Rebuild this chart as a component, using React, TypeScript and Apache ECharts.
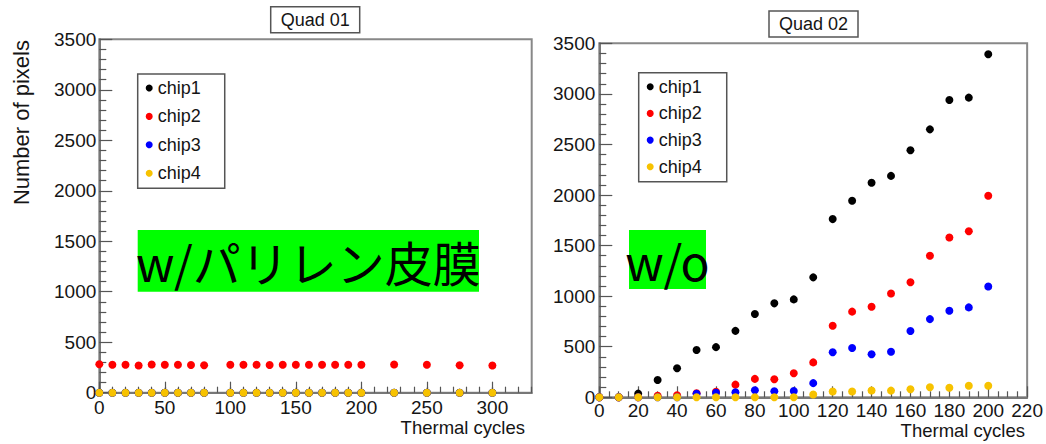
import React, { useEffect, useRef } from "react";
import * as echarts from "echarts";

// ---------- data ----------
const chipNames = ["chip1", "chip2", "chip3", "chip4"];
const chipColors = ["#000000", "#ff0000", "#0000ff", "#f7c200"];

const quad01Cycles = [0, 10, 20, 30, 40, 50, 60, 70, 80, 100, 110, 120, 130, 140, 150, 160, 170, 180, 190, 200, 225, 250, 275, 300];
const quad01Chip1 = [0, 0, 0, 0, 0, 0, 0, 0, 0, 0, 0, 0, 0, 0, 0, 0, 0, 0, 0, 0, 0, 0, 0, 0];
const quad01Chip2 = [282, 276, 276, 270, 280, 276, 276, 275, 272, 276, 276, 276, 275, 276, 276, 276, 276, 276, 277, 276, 279, 276, 272, 270];
const quad01Chip3 = [0, 0, 0, 0, 0, 0, 0, 0, 0, 0, 0, 0, 0, 0, 0, 0, 0, 0, 0, 0, 0, 0, 0, 0];
const quad01Chip4 = [0, 0, 0, 0, 0, 0, 0, 0, 0, 0, 0, 0, 0, 0, 0, 0, 0, 0, 0, 0, 0, 0, 0, 0];

const quad02Cycles = [0, 10, 20, 30, 40, 50, 60, 70, 80, 90, 100, 110, 120, 130, 140, 150, 160, 170, 180, 190, 200];
const quad02Chip1 = [0, 0, 36, 171, 287, 468, 496, 657, 824, 929, 968, 1186, 1762, 1943, 2121, 2189, 2443, 2649, 2940, 2963, 3391];
const quad02Chip2 = [0, 0, 0, 15, 20, 40, 55, 125, 182, 178, 237, 345, 708, 847, 895, 1026, 1137, 1400, 1580, 1642, 1993];
const quad02Chip3 = [0, 0, 0, 0, 0, 35, 45, 50, 70, 60, 63, 140, 445, 487, 425, 450, 655, 773, 856, 889, 1096];
const quad02Chip4 = [0, 0, 0, 0, 0, 0, 0, 0, 0, 0, 0, 27, 57, 57, 68, 66, 79, 99, 94, 115, 115];

const quad01Series = [quad01Chip1, quad01Chip2, quad01Chip3, quad01Chip4];
const quad02Series = [quad02Chip1, quad02Chip2, quad02Chip3, quad02Chip4];

const quad01Title = "Quad 01";
const quad02Title = "Quad 02";
const xAxisTitle = "Thermal cycles";
const yAxisTitle = "Number of pixels";
const quad01Tag = "w/パリレン皮膜";
const quad02Tag = "w/o";

// ---------- styles ----------
const FONT = "'Liberation Sans', Arial, Helvetica, sans-serif";
const CJK = "'Noto Sans CJK JP', 'Noto Sans', sans-serif";
const AXIS_COLOR = "#777";
const TICK_COLOR = "#555";
const LABEL_COLOR = "#151515";

function buildOption() {
  const yAxisBase = (gridIndex: number, labelMargin: number) => ({
    type: "value",
    gridIndex,
    min: 0,
    max: 3500,
    interval: 500,
    axisLine: { show: true, lineStyle: { color: AXIS_COLOR, width: 2 } },
    axisTick: { show: true, inside: true, length: 13, lineStyle: { color: TICK_COLOR, width: 1.2 } },
    minorTick: { show: true, splitNumber: 5, length: 7, lineStyle: { color: TICK_COLOR, width: 1.2 } },
    axisLabel: {
      fontFamily: FONT,
      fontSize: 19,
      color: LABEL_COLOR,
      margin: labelMargin,
      formatter: (v: number) => String(v),
    },
    splitLine: { show: false },
    minorSplitLine: { show: false },
  });

  const scatter = (name: string, color: string, xs: number[], ys: number[], xAxisIndex: number, yAxisIndex: number, z: number) => ({
    type: "scatter",
    name,
    xAxisIndex,
    yAxisIndex,
    symbol: "circle",
    symbolSize: 8,
    itemStyle: { color, opacity: 1 },
    emphasis: { disabled: true },
    z,
    clip: false,
    data: xs.map((x, i) => [x, ys[i]]),
  });

  const series: any[] = [];
  chipNames.forEach((n, i) => {
    series.push(scatter(n, chipColors[i], quad01Cycles, quad01Series[i], 0, 0, 2 + i));
  });
  chipNames.forEach((n, i) => {
    series.push(scatter(n, chipColors[i], quad02Cycles, quad02Series[i], 2, 1, 2 + i));
  });

  const legendBase = (left: number, top: number, gap: number, padding: number[]) => ({
    orient: "vertical",
    left,
    top,
    data: chipNames,
    icon: "circle",
    itemWidth: 7,
    itemHeight: 7,
    itemGap: gap,
    padding,
    borderColor: "#555",
    borderWidth: 1.5,
    backgroundColor: "#fff",
    selectedMode: false,
    itemStyle: { opacity: 1 },
    textStyle: { fontFamily: FONT, fontSize: 18, color: LABEL_COLOR, lineHeight: 20 },
  });

  const titleBase = (text: string, left: number, top: number) => ({
    text,
    left,
    top,
    padding: [4, 10, 4, 10],
    borderColor: "#555",
    borderWidth: 1.5,
    textStyle: { fontFamily: FONT, fontSize: 18, fontWeight: "normal", color: LABEL_COLOR, lineHeight: 18 },
  });

  return {
    animation: false,
    backgroundColor: "#fff",
    title: [titleBase(quad01Title, 270.7, 6.7), titleBase(quad02Title, 769, 11)],
    legend: [legendBase(137.7, 74, 8.4, [4, 24, 5, 8]), legendBase(638.7, 72.7, 6.7, [4, 25, 5, 8])],
    grid: [
      { left: 99.3, top: 39.3, width: 432.4, height: 353.4, show: true, borderColor: "#888", borderWidth: 2, backgroundColor: "transparent" },
      { left: 599.3, top: 43.3, width: 431.4, height: 354, show: true, borderColor: "#888", borderWidth: 2, backgroundColor: "transparent" },
    ],
    xAxis: [
      {
        type: "value",
        gridIndex: 0,
        min: 0,
        max: 330,
        interval: 50,
        axisLine: { show: true, lineStyle: { color: AXIS_COLOR, width: 2 } },
        axisTick: { show: true, inside: true, length: 11, lineStyle: { color: TICK_COLOR, width: 1.2 } },
        axisLabel: { fontFamily: FONT, fontSize: 19, color: LABEL_COLOR, margin: 5, showMaxLabel: false },
        splitLine: { show: false },
      },
      {
        type: "value",
        gridIndex: 0,
        position: "bottom",
        min: 0,
        max: 330,
        interval: 10,
        axisLine: { show: false },
        axisTick: { show: true, inside: true, length: 6, lineStyle: { color: TICK_COLOR, width: 1.2 } },
        axisLabel: { show: false },
        splitLine: { show: false },
      },
      {
        type: "value",
        gridIndex: 1,
        min: 0,
        max: 220,
        interval: 20,
        axisLine: { show: true, lineStyle: { color: AXIS_COLOR, width: 2 } },
        axisTick: { show: true, inside: true, length: 11, lineStyle: { color: TICK_COLOR, width: 1.2 } },
        minorTick: { show: true, splitNumber: 4, length: 6, lineStyle: { color: TICK_COLOR, width: 1.2 } },
        axisLabel: { fontFamily: FONT, fontSize: 19, color: LABEL_COLOR, margin: 4 },
        splitLine: { show: false },
        minorSplitLine: { show: false },
      },
    ],
    yAxis: [yAxisBase(0, 3), yAxisBase(1, 4)],
    series,
    graphic: [
      {
        type: "text",
        x: 21,
        y: 40,
        rotation: Math.PI / 2,
        style: { text: yAxisTitle, fontFamily: FONT, fontSize: 22, fill: LABEL_COLOR, align: "right", verticalAlign: "middle" },
      },
      {
        type: "text",
        x: 525,
        y: 418,
        style: { text: xAxisTitle, fontFamily: FONT, fontSize: 18.5, fill: LABEL_COLOR, align: "right", verticalAlign: "top" },
      },
      {
        type: "text",
        x: 1025,
        y: 421,
        style: { text: xAxisTitle, fontFamily: FONT, fontSize: 18.5, fill: LABEL_COLOR, align: "right", verticalAlign: "top" },
      },
      {
        type: "rect",
        shape: { x: 137.7, y: 230, width: 341.3, height: 61.7 },
        style: { fill: "#00ff00" },
        z: 50,
      },
      {
        type: "text",
        x: 308.4,
        y: 260.5,
        z: 51,
        style: { text: quad01Tag, fontFamily: CJK, fontSize: 48, fill: "#000", align: "center", verticalAlign: "middle" },
      },
      {
        type: "rect",
        shape: { x: 629, y: 230, width: 77, height: 59 },
        style: { fill: "#00ff00" },
        z: 50,
      },
      {
        type: "text",
        x: 667.5,
        y: 259.5,
        z: 51,
        style: { text: quad02Tag, fontFamily: CJK, fontSize: 48, fill: "#000", align: "center", verticalAlign: "middle" },
      },
    ],
  };
}

export default function App() {
  const ref = useRef<HTMLDivElement>(null);
  useEffect(() => {
    if (!ref.current) return;
    const chart = echarts.init(ref.current, undefined, { renderer: "svg" });
    chart.setOption(buildOption() as any);
    return () => chart.dispose();
  }, []);
  return (
    <div
      ref={ref}
      style={{ position: "absolute", left: 0, top: 0, width: 1046, height: 444, background: "#fff" }}
    />
  );
}
